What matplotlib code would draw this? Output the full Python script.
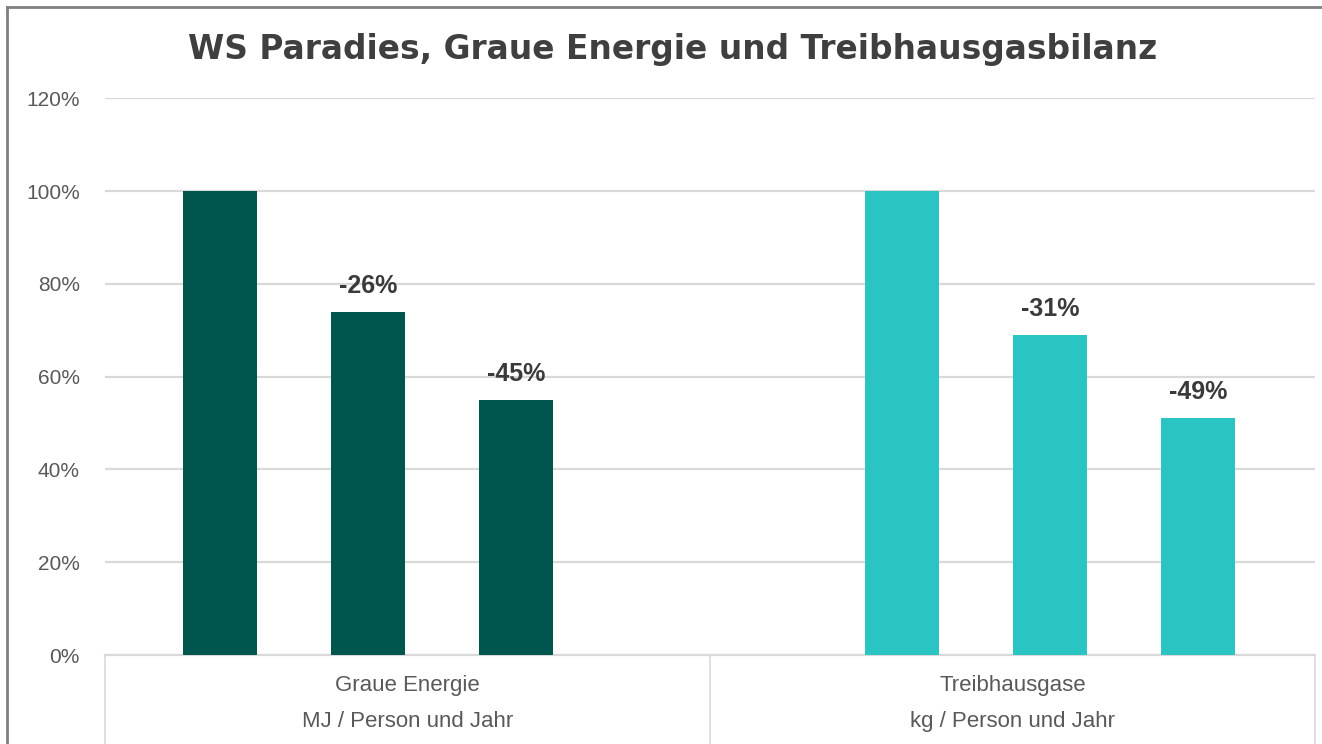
import matplotlib.pyplot as plt
from matplotlib.lines import Line2D
import matplotlib.transforms as mtransforms

# Data
categories = ["Graue Energie", "Treibhausgase"]
units = ["MJ / Person und Jahr", "kg / Person und Jahr"]
energie = [100, 74, 55]
treibhaus = [100, 69, 51]
energie_labels = ["", "-26%", "-45%"]
treibhaus_labels = ["", "-31%", "-49%"]
yticks = [0, 20, 40, 60, 80, 100, 120]

dark = "#00564F"
light = "#2AC4C2"
grey_text = "#595959"

plt.rcParams["font.family"] = ["Liberation Sans", "DejaVu Sans"]

fig = plt.figure(figsize=(13.22, 7.44), dpi=100)
ax = fig.add_axes([0.0794, 0.1196, 0.9153, 0.7484])

step = 0.245
width = 0.122
group_shift = [-0.065, 0.062]
for g, (vals, labs, col) in enumerate(
    [(energie, energie_labels, dark), (treibhaus, treibhaus_labels, light)]
):
    centre = g + 0.5 + group_shift[g]
    xs = [centre + (i - 1) * step for i in range(len(vals))]
    ax.bar(xs, vals, width=width, color=col, zorder=3)
    for x, v, lab in zip(xs, vals, labs):
        if lab:
            ax.text(x, v + 3, lab, ha="center", va="bottom",
                    fontsize=18, fontweight="bold", color="#3A3A3A")

ax.set_xlim(0, 2)
ax.set_ylim(0, 120)
ax.set_yticks(yticks)
ax.set_yticklabels([f"{t}%" for t in yticks], fontsize=15, color=grey_text)
ax.tick_params(axis="y", length=0, pad=18)
ax.set_xticks([])
ax.grid(axis="y", color="#D9D9D9", linewidth=1.6, zorder=0)
for s in ["top", "right", "left"]:
    ax.spines[s].set_visible(False)
ax.spines["bottom"].set_color("#D9D9D9")
ax.spines["bottom"].set_linewidth(1.6)

# category box below the axis
trans = mtransforms.blended_transform_factory(ax.transData, ax.transAxes)
for xb in [0, 1, 2]:
    ax.add_line(Line2D([xb, xb], [0, -0.25], transform=trans,
                       color="#D9D9D9", linewidth=1.2, clip_on=False))
for i, (cat, unit) in enumerate(zip(categories, units)):
    ax.text(i + 0.5, -0.055, cat, transform=trans, ha="center", va="center",
            fontsize=16, color=grey_text)
    ax.text(i + 0.5, -0.12, unit, transform=trans, ha="center", va="center",
            fontsize=16, color=grey_text)

fig.text(0.509, 0.933, "WS Paradies, Graue Energie und Treibhausgasbilanz",
         ha="center", va="center", fontsize=23.7, fontweight="bold",
         color="#3F3F3F", family="DejaVu Sans")

# outer frame (left and top edges)
fig.add_artist(Line2D([0.0053, 0.0053], [0, 0.9906], transform=fig.transFigure,
                      color="#808080", linewidth=2))
fig.add_artist(Line2D([0.0053, 1], [0.9906, 0.9906], transform=fig.transFigure,
                      color="#808080", linewidth=2))

fig.savefig("out.png", dpi=100)
